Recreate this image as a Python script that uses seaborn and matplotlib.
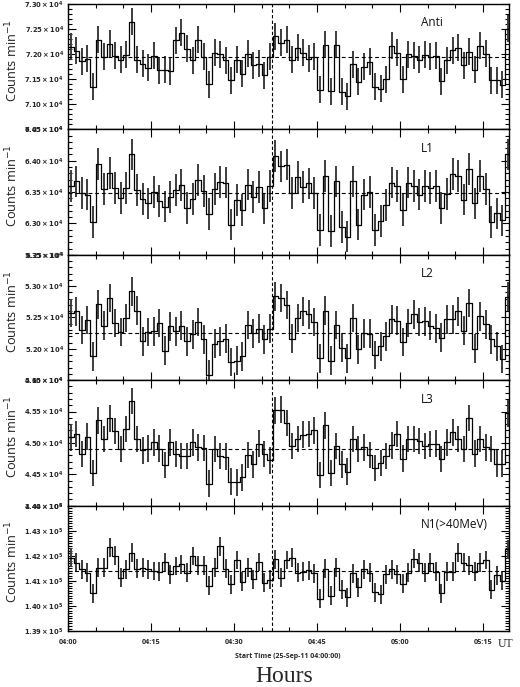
import numpy as np
import pandas as pd
import matplotlib
matplotlib.use("Agg")
import matplotlib.pyplot as plt
import matplotlib.ticker as mticker
import seaborn as sns

# ---------------- data (counts per minute, 1-min bins from 04:00 UT) ----------------
panel_names = ["Anti", "L1", "L2", "L3", "N1(>40MeV)"]

anti = [72150, 72070, 71860, 71910, 71350, 72290, 71950, 72210, 71970, 71890,
        71990, 72650, 71890, 71810, 71730, 71970, 71680, 71690, 71660, 72280,
        72430, 72110, 71880, 72290, 71950, 71400, 72030, 72000, 71880, 71480,
        71890, 71610, 72010, 71780, 71810, 71580, 71950,
        72360, 72230, 72290, 71890, 72130, 72030, 71910, 71950, 71290, 72190,
        71260, 72190, 71250, 71160, 71800, 71450, 71750, 71850, 71350, 71310,
        71500, 72170, 72030, 71500, 72000, 71970, 71890, 71990, 71950, 71970,
        71460, 71880, 72080, 72130, 71780, 72050, 71690, 72170, 72010, 71480,
        71480, 71390, 72510]

l1 = [63600, 63670, 63490, 63460, 63020, 63950, 63550, 63800, 63570, 63410,
      63570, 64100, 63530, 63390, 63320, 63500, 63360, 63270, 63420, 63530,
      63610, 63250, 63390, 63690, 63520, 63150, 63550, 63660, 63650, 62980,
      63370, 63210, 63620, 63420, 63580, 63240, 63600,
      64080, 63910, 63940, 63490, 63740, 63580, 63640, 63490, 62900, 63760,
      62880, 63670, 62940, 62790, 63670, 62980, 63460, 63500, 62900, 63040,
      63290, 63650, 63600, 63210, 63650, 63600, 63460, 63600, 63570, 63600,
      63250, 63470, 63790, 63760, 63380, 63870, 63320, 63760, 63550, 63020,
      63160, 63050, 64100]

l2 = [52570, 52600, 52300, 52460, 51880, 52710, 52370, 52810, 52410, 52270,
      52490, 52920, 52610, 52120, 52270, 52280, 52410, 51970, 52360, 52280,
      52370, 52120, 52230, 52430, 52150, 51590, 52080, 52120, 52160, 51790,
      51810, 51880, 52380, 52250, 52320, 52150, 52320,
      52840, 52810, 52700, 52160, 52490, 52600, 52550, 52430, 51850, 52610,
      51810, 52380, 52020, 51850, 52490, 51990, 52250, 52240, 51900, 52040,
      52200, 52470, 52450, 52110, 52410, 52550, 52430, 52440, 52370, 52330,
      52180, 52470, 52470, 52600, 52290, 52730, 52000, 52520, 52390, 52150,
      52040, 51840, 52830]

l3 = [45090, 45140, 44820, 45100, 44520, 45360, 45060, 45390, 45190, 44900,
      45220, 45670, 45060, 44880, 44910, 45010, 44910, 44650, 45010, 44820,
      44790, 44790, 45010, 44930, 44920, 44350, 44900, 44790, 44780, 44380,
      44370, 44450, 44810, 44660, 44990, 44820, 44720,
      45520, 45530, 45320, 44950, 45060, 45130, 45140, 45200, 44490, 45280,
      44520, 44950, 44660, 44540, 45060, 44900, 44930, 44810, 44600, 44680,
      44790, 44960, 45140, 44750, 45060, 45060, 45030, 44950, 44980, 44990,
      44740, 45010, 45170, 45060, 44900, 45400, 44830, 45060, 44930, 44900,
      44670, 44670, 45470]

n1 = [141920, 141720, 141460, 141330, 140510, 141530, 141530, 142340, 142010, 141130,
      141460, 142120, 141490, 141530, 141460, 141390, 141360, 141750, 141260, 141590,
      141660, 141330, 141990, 141620, 141620, 140800, 141530, 142380, 141490, 140870,
      141830, 140960, 141530, 141070, 141750, 140930, 141040,
      141860, 141130, 141830, 141920, 141330, 141360, 141420, 141300, 140280, 141490,
      140410, 141530, 140640, 140340, 141300, 140740, 141460, 141330, 140540, 140470,
      141260, 141460, 141260, 140890, 141330, 141880, 141720, 141330, 141720, 141360,
      140510, 141360, 141360, 142120, 141720, 141620, 141360, 141720, 141830, 140640,
      141220, 141000, 142250]

series = [anti, l1, l2, l3, n1]
errors = [268, 252, 229, 212, 376]            # 1-sigma error bar per panel
means = [71950, 63490, 52260, 44910, 141400]  # dashed mean level per panel
ylims = [(70500, 73000), (62500, 64500), (51500, 53500), (44000, 46000), (139000, 144000)]
ymajor = [500, 500, 500, 500, 1000]
yminor = [100, 100, 100, 100, 100]
yexp = [4, 4, 4, 4, 5]
event_minute = 36.8
x_ticks = [0, 15, 30, 45, 60, 75]
x_tick_labels = ["04:00", "04:15", "04:30", "04:45", "05:00", "05:15"]
x_max = 79.7

# ---------------- style ----------------
sns.set_theme(style="ticks")
plt.rcParams["font.family"] = ["Open Sans", "DejaVu Sans"]
plt.rcParams["axes.linewidth"] = 1.0

fig = plt.figure(figsize=(5.2, 6.87), dpi=100)
axes = fig.subplots(5, 1, sharex=True)
fig.subplots_adjust(left=0.1308, right=0.9788, top=0.9942, bottom=0.0815, hspace=0)

def make_fmt(exp):
    def f(v, pos):
        return r"$\mathbf{%.2f\times10^{%d}}$" % (v / 10 ** exp, exp)
    return f

for i, ax in enumerate(axes):
    vals = series[i]
    n = len(vals)
    minutes = np.arange(n)
    df = pd.DataFrame({"t": np.append(minutes, n), "c": vals + [vals[-1]]})
    sns.lineplot(data=df, x="t", y="c", ax=ax, drawstyle="steps-post",
                 color="black", linewidth=0.9, estimator=None)
    ax.errorbar(minutes + 0.5, vals, yerr=errors[i], fmt="none",
                ecolor="#3d3d3d", elinewidth=1.4, capsize=0, zorder=1)
    ax.axhline(means[i], color="black", linestyle=(0, (3.5, 2.5)), linewidth=0.8)
    ax.axvline(event_minute, color="black", linestyle=(0, (3, 2)), linewidth=0.8)

    ax.set_xlim(0, x_max)
    ax.set_ylim(*ylims[i])
    ax.yaxis.set_major_locator(mticker.MultipleLocator(ymajor[i]))
    ax.yaxis.set_minor_locator(mticker.MultipleLocator(yminor[i]))
    ax.yaxis.set_major_formatter(mticker.FuncFormatter(make_fmt(yexp[i])))
    ax.xaxis.set_major_locator(mticker.FixedLocator(x_ticks))
    ax.xaxis.set_minor_locator(mticker.MultipleLocator(5))
    ax.tick_params(axis="both", which="both", direction="in", top=True, right=True,
                   color="black", width=0.8)
    ax.tick_params(axis="both", which="major", length=5.5)
    ax.tick_params(axis="both", which="minor", length=3)
    ax.tick_params(axis="y", labelsize=4.9, pad=3)
    ax.set_ylabel("Counts min$^{-1}$", fontsize=9.2, color="#222222")
    ax.yaxis.set_label_coords(-0.108, 0.55)
    ax.set_xlabel("")
    ax.text(0.80, 0.85, panel_names[i], transform=ax.transAxes, fontsize=8.5,
            ha="left", va="center", color="#111111")
    for s in ax.spines.values():
        s.set_visible(True)
        s.set_color("black")

axes[-1].set_xticks(x_ticks)
axes[-1].set_xticklabels(x_tick_labels)
axes[-1].tick_params(axis="x", labelsize=5.2, pad=6)
for lab in axes[-1].get_xticklabels():
    lab.set_fontweight("bold")

fig.text(0.554, 1 - 657 / 687, "Start Time (25-Sep-11 04:00:00)", fontsize=5,
         ha="center", va="center", fontweight="bold")
fig.text(0.972, 1 - 644 / 687, "UT", fontsize=8.5, ha="center", va="center",
         family="Liberation Serif")
fig.text(0.546, 1 - 677 / 687, "Hours", fontsize=17, ha="center", va="center",
         family="Liberation Serif")

fig.savefig("out.png", dpi=100)
